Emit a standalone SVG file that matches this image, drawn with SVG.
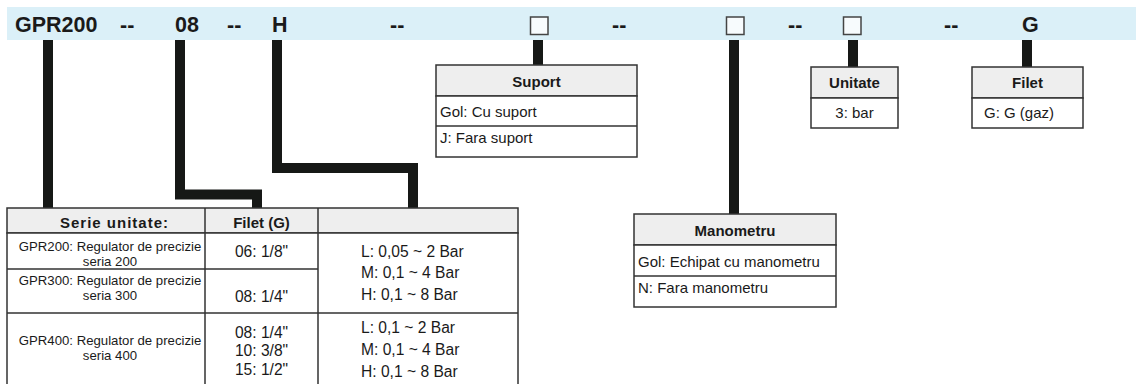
<svg xmlns="http://www.w3.org/2000/svg" width="1144" height="384" viewBox="0 0 1144 384">
<style>
.hb{font-family:"Liberation Sans",Arial,sans-serif;font-weight:bold;font-size:21.5px;fill:#1a1a1a}
.th{font-family:"Liberation Sans",Arial,sans-serif;font-weight:bold;font-size:15px;fill:#1a1a1a}
.tb{font-family:"Liberation Sans",Arial,sans-serif;font-size:15px;fill:#1a1a1a}
.tr{font-family:"Liberation Sans",Arial,sans-serif;font-size:15.6px;fill:#1a1a1a}
.ts{font-family:"Liberation Sans",Arial,sans-serif;font-size:13.2px;fill:#1a1a1a}
.ln{stroke:#333;stroke-width:1.5;fill:none}
.hd{fill:#eeeeee;stroke:#333;stroke-width:1.5}
.bx{fill:#ffffff;stroke:#333;stroke-width:1.5}
.cn{stroke:#161816;stroke-width:10;fill:none;stroke-linejoin:miter}
.sq{fill:#f7fbfd;stroke:#444;stroke-width:1.5}
</style>
<rect x="7" y="7" width="1129" height="33" fill="#dbf0f8"/>
<g id="code">
<text class="hb" x="15" y="32">GPR200</text>
<text class="hb" x="120" y="32">--</text>
<text class="hb" x="175" y="32">08</text>
<text class="hb" x="227" y="32">--</text>
<text class="hb" x="272" y="32">H</text>
<text class="hb" x="390" y="32">--</text>
<rect class="sq" x="530.5" y="17" width="17.5" height="17.5"/>
<text class="hb" x="612" y="32">--</text>
<rect class="sq" x="726.5" y="17" width="17.5" height="17.5"/>
<text class="hb" x="788" y="32">--</text>
<rect class="sq" x="843.5" y="17" width="17.5" height="17.5"/>
<text class="hb" x="944" y="32">--</text>
<text class="hb" x="1022" y="32">G</text>
</g>
<g id="connectors">
<path class="cn" d="M48 40 V208"/>
<path class="cn" d="M180 40 V194.5 H257 V208"/>
<path class="cn" d="M277 40 V168 H413 V208"/>
<path class="cn" d="M538 40 V65"/>
<path class="cn" d="M734 40 V214"/>
<path class="cn" d="M853 40 V67"/>
<path class="cn" d="M1027 40 V67"/>
</g>
<g id="table">
<rect class="hd" x="7" y="208" width="511" height="25"/>
<rect class="bx" x="7" y="233" width="511" height="155"/>
<path class="ln" d="M205 208 V388 M318 208 V388 M7 269 H318 M7 313 H518"/>
<text class="th" x="60" y="228" textLength="108" lengthAdjust="spacing">Serie unitate:</text>
<text class="th" x="261.5" y="228" text-anchor="middle">Filet (G)</text>
<text class="ts" text-anchor="middle"><tspan x="110" y="251">GPR200: Regulator de precizie</tspan><tspan x="110" y="266">seria 200</tspan></text>
<text class="tr" x="261.5" y="257" text-anchor="middle">06: 1/8"</text>
<text class="ts" text-anchor="middle"><tspan x="110" y="285">GPR300: Regulator de precizie</tspan><tspan x="110" y="300">seria 300</tspan></text>
<text class="tr" x="261.5" y="302" text-anchor="middle">08: 1/4"</text>
<text class="ts" text-anchor="middle"><tspan x="110" y="345">GPR400: Regulator de precizie</tspan><tspan x="110" y="360">seria 400</tspan></text>
<text class="tr" text-anchor="middle"><tspan x="261.5" y="338">08: 1/4"</tspan><tspan x="261.5" y="356">10: 3/8"</tspan><tspan x="261.5" y="375">15: 1/2"</tspan></text>
<text class="tr"><tspan x="361" y="257">L: 0,05 ~ 2 Bar</tspan><tspan x="361" y="278">M: 0,1 ~ 4 Bar</tspan><tspan x="361" y="300">H: 0,1 ~ 8 Bar</tspan></text>
<text class="tr"><tspan x="361" y="333">L: 0,1 ~ 2 Bar</tspan><tspan x="361" y="355">M: 0,1 ~ 4 Bar</tspan><tspan x="361" y="377">H: 0,1 ~ 8 Bar</tspan></text>
</g>
<g id="suport">
<rect class="hd" x="436" y="65" width="201" height="31"/>
<rect class="bx" x="436" y="96" width="201" height="61"/>
<path class="ln" d="M436 126 H637"/>
<text class="th" x="536.5" y="87" text-anchor="middle">Suport</text>
<text class="tb" x="440" y="117">Gol: Cu suport</text>
<text class="tb" x="440" y="143">J: Fara suport</text>
</g>
<g id="manometru">
<rect class="hd" x="634" y="214" width="202" height="31"/>
<rect class="bx" x="634" y="245" width="202" height="62"/>
<path class="ln" d="M634 276 H836"/>
<text class="th" x="735" y="236" text-anchor="middle">Manometru</text>
<text class="tb" x="638" y="267">Gol: Echipat cu manometru</text>
<text class="tb" x="638" y="293">N: Fara manometru</text>
</g>
<g id="unitate">
<rect class="hd" x="811" y="67" width="87" height="31"/>
<rect class="bx" x="811" y="98" width="87" height="30"/>
<text class="th" x="854.5" y="88" text-anchor="middle">Unitate</text>
<text class="tb" x="854.5" y="118" text-anchor="middle">3: bar</text>
</g>
<g id="filet">
<rect class="hd" x="972" y="67" width="111" height="31"/>
<rect class="bx" x="972" y="98" width="111" height="30"/>
<text class="th" x="1027.5" y="88" text-anchor="middle">Filet</text>
<text class="tb" x="984" y="118">G: G (gaz)</text>
</g>
</svg>
